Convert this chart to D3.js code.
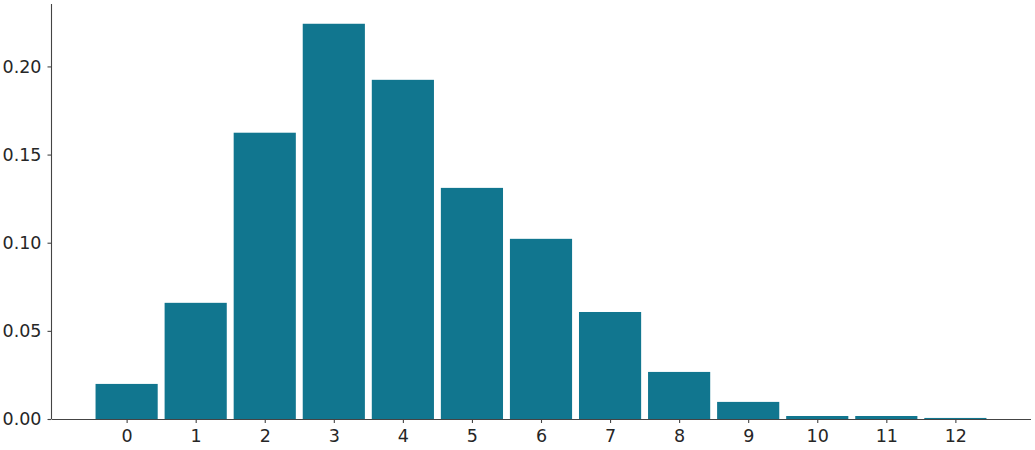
<!DOCTYPE html>
<html>
<head>
<meta charset="utf-8">
<script src="https://cdn.jsdelivr.net/npm/d3@7"></script>
<style>
  body { margin: 0; background: #fff; }
  text { font-family: "DejaVu Sans", sans-serif; }
</style>
</head>
<body>
<div id="chart"></div>
<script>
// data
var categories = [0, 1, 2, 3, 4, 5, 6, 7, 8, 9, 10, 11, 12];
var values = [0.0199, 0.0659, 0.1624, 0.2242, 0.1924, 0.1311, 0.1022, 0.0607, 0.0267, 0.0097, 0.0017, 0.0017, 0.0006];
var yTicks = [0.00, 0.05, 0.10, 0.15, 0.20];

var margin = {top: 4, right: 4, bottom: 31, left: 51},
    width = 1035 - margin.left - margin.right,
    height = 450 - margin.top - margin.bottom;

var svg = d3.select("#chart")
  .append("svg")
    .attr("width", 1035)
    .attr("height", 450)
  .append("g")
    .attr("transform", "translate(" + margin.left + "," + margin.top + ")");

var barW = 0.9;
var pad = (categories.length - 1 + barW) * 0.05;
var x = d3.scaleLinear()
  .domain([-barW / 2 - pad, categories.length - 1 + barW / 2 + pad])
  .range([0, width]);

var y = d3.scaleLinear()
  .domain([0, d3.max(values) * 1.05])
  .range([height, 0]);

// bars
svg.selectAll(".bar")
  .data(categories)
  .enter()
  .append("rect")
    .attr("class", "bar")
    .attr("x", function(d) { return x(d - barW / 2); })
    .attr("width", function(d) { return x(d + barW / 2) - x(d - barW / 2); })
    .attr("y", function(d, i) { return y(values[i]); })
    .attr("height", function(d, i) { return height - y(values[i]); })
    .attr("fill", "#11768f");

// X axis
var xAxis = svg.append("g")
  .attr("transform", "translate(0," + height + ")")
  .call(d3.axisBottom(x).tickValues(categories).tickFormat(d3.format("d")).tickSize(4).tickPadding(7));

// Y axis
var yAxis = svg.append("g")
  .call(d3.axisLeft(y).tickValues(yTicks).tickFormat(d3.format(".2f")).tickSize(3.5).tickPadding(6));

[xAxis, yAxis].forEach(function(a) {
  a.select(".domain").attr("stroke", "#444").attr("stroke-width", 1.1);
  a.selectAll(".tick line").attr("stroke", "#444").attr("stroke-width", 1.1);
  a.selectAll(".tick text")
    .attr("fill", "#262626")
    .style("font-size", "17.5px")
    .style("font-family", "DejaVu Sans");
});
xAxis.select(".domain").attr("d", "M0.5,0.5H" + width);
yAxis.select(".domain").attr("d", "M0.5," + height + "V0");
</script>
</body>
</html>
